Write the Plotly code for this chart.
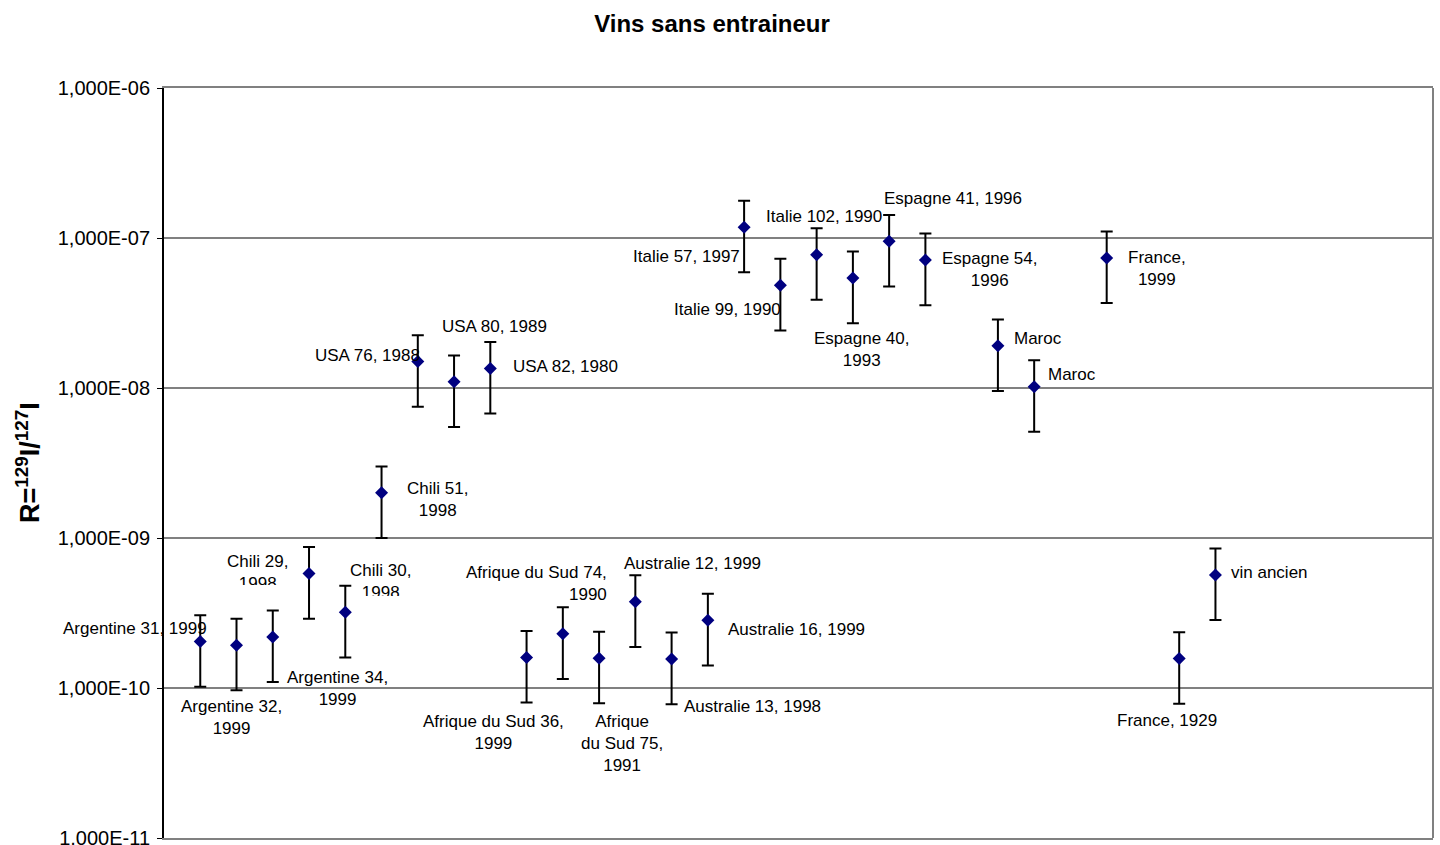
import numpy as np
import plotly.graph_objects as go

# Sample position along the horizontal axis (axis runs 0..35, no labels)
x_pos = [1, 2, 3, 4, 5, 6, 7, 8, 9, 10, 11, 12, 13, 14, 15, 16, 17, 18, 19, 20, 21,
         23, 24, 26, 28, 29]

# Measured ratio R = 129I/127I
ratio = [2.04e-10, 1.93e-10, 2.19e-10, 5.8e-10, 3.2e-10, 2.0e-09,
         1.5e-08, 1.1e-08, 1.35e-08,
         1.6e-10, 2.3e-10, 1.58e-10, 3.76e-10, 1.56e-10, 2.83e-10,
         1.18e-07, 4.84e-08, 7.74e-08,
         5.41e-08, 9.5e-08, 7.13e-08,
         1.91e-08, 1.02e-08, 7.36e-08, 1.57e-10, 5.67e-10]

# Relative uncertainty (percent, symmetric)
rel_error_pct = 50

labels = ["Argentine 31, 1999", "Argentine 32,<br>1999", "Argentine 34,<br>1999",
          "Chili 29,<br>1998", "Chili 30,<br>1998", "Chili 51,<br>1998",
          "USA 76, 1988", "USA 80, 1989", "USA 82, 1980",
          "Afrique du Sud 36,<br>1999", "Afrique du Sud 74,<br>1990",
          "Afrique<br>du Sud 75,<br>1991",
          "Australie 12, 1999", "Australie 13, 1998", "Australie 16, 1999",
          "Italie 57, 1997", "Italie 99, 1990", "Italie 102, 1990",
          "Espagne 40,<br>1993", "Espagne 41, 1996", "Espagne 54,<br>1996",
          "Maroc", "Maroc", "France,<br>1999", "France, 1929", "vin ancien"]

tick_values = [1e-11, 1e-10, 1e-09, 1e-08, 1e-07, 1e-06]
tick_text = ["1,000E-11", "1,000E-10", "1,000E-09", "1,000E-08", "1,000E-07", "1,000E-06"]

# Label placement: (dx px, dy px down, anchor, clip height or None)
label_layout = [
    (-65, -13, "center", None), (-5, 72, "center", None), (65, 52, "center", None),
    (-52, -22, "top", 33), (35, -52, "top", 35), (56, 7, "center", None),
    (-50, -6, "center", None), (40, -55, "center", None), (75, -2, "center", None),
    (-33, 75, "center", None), (45, -50, "right", None), (23, 85, "center", None),
    (57, -38, "center", None), (81, 47, "center", None), (89, 9, "center", None),
    (-58, 29, "center", None), (-53, 24, "center", None), (7, -38, "center", None),
    (9, 71, "center", None), (64, -43, "center", None), (64, 9, "center", None),
    (40, -7, "center", None), (38, -12, "center", None), (50, 11, "center", None),
    (-12, 62, "center", None), (54, -2, "center", None),
]

FONT = "Liberation Sans, Arial, sans-serif"

fig = go.Figure()
fig.add_trace(go.Scatter(
    x=x_pos, y=ratio, mode="markers",
    marker=dict(symbol="diamond", size=10, color="#000080"),
    error_y=dict(type="percent", value=rel_error_pct, symmetric=True,
                 color="black", thickness=2, width=6),
    hoverinfo="x+y", showlegend=False,
))

annotations = []
for xv, yv, txt, (dx, dy, mode, clip_h) in zip(x_pos, ratio, labels, label_layout):
    ann = dict(x=xv, y=np.log10(yv), xref="x", yref="y", text=txt, showarrow=False,
               font=dict(family=FONT, size=17, color="black"),
               xshift=dx, yshift=-dy, borderpad=0)
    if mode == "right":
        ann.update(xanchor="right", align="right", yanchor="middle")
    elif mode == "top":
        ann.update(xanchor="center", align="center", yanchor="top",
                   height=clip_h, valign="top")
    else:
        ann.update(xanchor="center", align="center", yanchor="middle")
    annotations.append(ann)

# Rotated y-axis title
annotations.append(dict(
    x=(28 - 164) / 1269, xref="paper", y=0.5, yref="paper", textangle=-90,
    showarrow=False,
    text="<b>R=<sup>129</sup>I/<sup>127</sup>I</b>",
    font=dict(family=FONT, size=27, color="black"),
    xanchor="center", yanchor="middle",
))

fig.update_layout(
    width=1440, height=845,
    margin=dict(l=164, r=7, t=88, b=7, autoexpand=False),
    paper_bgcolor="white", plot_bgcolor="white",
    title=dict(text="<b>Vins sans entraineur</b>", x=712 / 1440, xanchor="center",
               y=1 - 24 / 845, yanchor="middle", yref="container",
               font=dict(family=FONT, size=24, color="black")),
    annotations=annotations,
    xaxis=dict(range=[0, 35], showticklabels=False, ticks="", showgrid=False,
               zeroline=False, showline=True, mirror=True, automargin=False,
               linecolor="#808080", linewidth=2),
    yaxis=dict(type="log", range=[-11, -6], tickvals=tick_values,
               ticktext=tick_text, automargin=False,
               ticks="outside", ticklen=5, tickcolor="black", tickwidth=1,
               ticklabelstandoff=3, ticklabeloverflow="allow",
               tickfont=dict(family=FONT, size=20, color="black"),
               showgrid=True, gridcolor="#808080", gridwidth=1.5,
               zeroline=False, showline=True, linecolor="black", linewidth=2),
    shapes=[dict(type="line", xref="paper", yref="paper", x0=1, x1=1, y0=0, y1=1,
                 line=dict(color="#808080", width=2))],
)

fig.write_html("out.html")
